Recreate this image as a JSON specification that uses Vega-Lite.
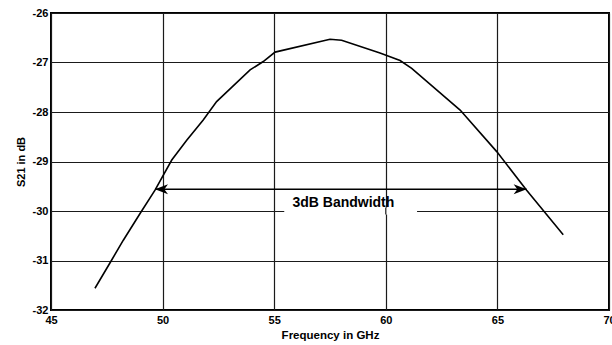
{
  "$schema": "https://vega.github.io/schema/vega-lite/v6.json",
  "width": 558,
  "height": 297,
  "autosize": {"type": "none"},
  "padding": {"left": 51, "top": 13, "right": 3, "bottom": 35},
  "background": "white",
  "config": {
    "view": {"stroke": "black", "strokeWidth": 2},
    "font": "Liberation Sans",
    "axis": {
      "domain": false,
      "ticks": false,
      "grid": true,
      "gridColor": "#1a1a1a",
      "gridWidth": 1.2,
      "gridOpacity": 1,
      "labelFlush": false,
      "labelOverlap": false,
      "labelExpr": "datum.value + ''",
      "labelFont": "Liberation Sans",
      "labelFontWeight": "bold",
      "labelFontSize": 11,
      "labelColor": "black",
      "titleFont": "Liberation Sans",
      "titleFontWeight": "bold",
      "titleColor": "black"
    }
  },
  "datasets": {
    "curve": [
      {"f": 46.97, "s": -31.56},
      {"f": 47.64, "s": -31.05},
      {"f": 48.24, "s": -30.59},
      {"f": 48.99, "s": -30.05},
      {"f": 49.66, "s": -29.58},
      {"f": 50.41, "s": -28.97},
      {"f": 51.08, "s": -28.57},
      {"f": 51.82, "s": -28.16},
      {"f": 52.42, "s": -27.79},
      {"f": 53.92, "s": -27.15},
      {"f": 54.51, "s": -26.98},
      {"f": 55.04, "s": -26.79},
      {"f": 57.50, "s": -26.53},
      {"f": 58.02, "s": -26.55},
      {"f": 59.74, "s": -26.81},
      {"f": 60.64, "s": -26.96},
      {"f": 61.16, "s": -27.12},
      {"f": 63.33, "s": -27.96},
      {"f": 64.97, "s": -28.80},
      {"f": 66.31, "s": -29.58},
      {"f": 67.95, "s": -30.48}
    ],
    "band": [{"f1": 49.66, "f2": 66.31, "s": -29.56}],
    "label": [{"f": 58.1, "s": -29.84, "text": "3dB Bandwidth", "b1": 55.45, "b2": 61.4, "t1": -29.93, "t2": -30.07}]
  },
  "layer": [
    {
      "data": {"name": "curve"},
      "mark": {"type": "line", "color": "black", "strokeWidth": 1.6},
      "encoding": {
        "x": {
          "field": "f", "type": "quantitative",
          "scale": {"domain": [45, 70], "nice": false, "zero": false},
          "axis": {"values": [45, 50, 55, 60, 65, 70], "title": "Frequency in GHz", "titleFontSize": 11.5, "labelPadding": 4, "titlePadding": 4}
        },
        "y": {
          "field": "s", "type": "quantitative",
          "scale": {"domain": [-32, -26], "nice": false, "zero": false},
          "axis": {"values": [-32, -31, -30, -29, -28, -27, -26], "title": "S21 in dB", "titleFontSize": 11, "labelPadding": 3, "titlePadding": 6}
        }
      }
    },
    {
      "data": {"name": "label"},
      "mark": {"type": "rect", "color": "white"},
      "encoding": {
        "x": {"field": "b1", "type": "quantitative"},
        "x2": {"field": "b2"},
        "y": {"field": "t1", "type": "quantitative"},
        "y2": {"field": "t2"}
      }
    },
    {
      "data": {"name": "label"},
      "mark": {"type": "rule", "color": "#1a1a1a", "strokeWidth": 1.2},
      "encoding": {
        "x": {"datum": 60, "type": "quantitative"},
        "y": {"field": "t1", "type": "quantitative"},
        "y2": {"field": "t2"}
      }
    },
    {
      "data": {"name": "label"},
      "mark": {"type": "text", "font": "Liberation Sans", "fontWeight": "bold", "fontSize": 14, "color": "black", "baseline": "middle", "align": "center"},
      "encoding": {
        "x": {"field": "f", "type": "quantitative"},
        "y": {"field": "s", "type": "quantitative"},
        "text": {"field": "text"}
      }
    },
    {
      "data": {"name": "band"},
      "mark": {"type": "rule", "color": "black", "strokeWidth": 1.4},
      "encoding": {
        "x": {"field": "f1", "type": "quantitative"},
        "x2": {"field": "f2"},
        "y": {"field": "s", "type": "quantitative"}
      }
    },
    {
      "data": {"name": "band"},
      "mark": {"type": "point", "filled": true, "color": "black", "opacity": 1, "size": 676, "shape": "M0,0L1,-0.38L0.72,0L1,0.38Z"},
      "encoding": {
        "x": {"field": "f1", "type": "quantitative"},
        "y": {"field": "s", "type": "quantitative"}
      }
    },
    {
      "data": {"name": "band"},
      "mark": {"type": "point", "filled": true, "color": "black", "opacity": 1, "size": 676, "shape": "M0,0L-1,-0.38L-0.72,0L-1,0.38Z"},
      "encoding": {
        "x": {"field": "f2", "type": "quantitative"},
        "y": {"field": "s", "type": "quantitative"}
      }
    }
  ]
}
